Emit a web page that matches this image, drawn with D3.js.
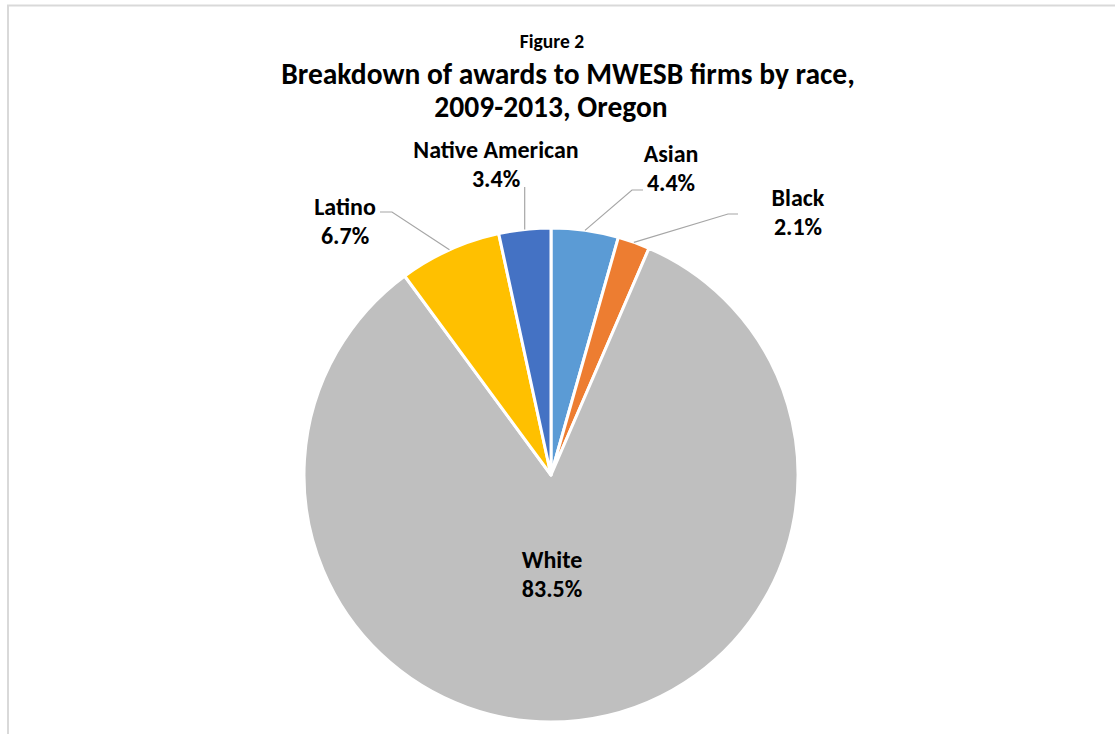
<!DOCTYPE html>
<html>
<head>
<meta charset="utf-8">
<script src="https://cdn.jsdelivr.net/npm/d3@7"></script>
<style>
  html, body { margin: 0; padding: 0; background: #fff; }
  svg { display: block; }
  text { font-family: Calibri, Carlito, "Open Sans", sans-serif; font-weight: bold; fill: #000; }
</style>
</head>
<body>
<svg id="chart" width="1115" height="734"></svg>
<script>
// Share of awards to MWESB firms by race, Oregon 2009-2013 (percent)
const categories = ["Asian", "Black", "White", "Latino", "Native American"];
const shares = [4.4, 2.1, 83.5, 6.7, 3.4];
const valueLabels = ["4.4%", "2.1%", "83.5%", "6.7%", "3.4%"];
const sliceColors = ["#5b9bd5", "#ed7d31", "#bfbfbf", "#ffc000", "#4472c4"];

const titleLines = ["Figure 2", "Breakdown of awards to MWESB firms by race,", "2009-2013, Oregon"];

// Label placement, relative to the pie centre: text centre x, first baseline y,
// and the elbow / end of each leader line (null for labels drawn inside the slice).
const labelLayout = {
  "Asian":           { tx: 120, ty: -313, elbow: [81, -285], end: [92, -285] },
  "Black":           { tx: 247, ty: -269, elbow: [177, -261], end: [187, -261] },
  "White":           { tx: 1,   ty: 93,   elbow: null, end: null },
  "Latino":          { tx: -206, ty: -260, elbow: [-159, -263], end: [-171, -263] },
  "Native American": { tx: -55, ty: -317, elbow: [-26, -288], end: [-26, -288] }
};
const labelLineGap = 28.5;

const W = 1115, H = 734;
const svg = d3.select("#chart");

// chart frame
svg.append("path")
  .attr("d", `M8,${H} L8,5.5 L${W},5.5`)
  .attr("fill", "none")
  .attr("stroke", "#d9d9d9")
  .attr("stroke-width", 2);

// title
const title = svg.append("g").attr("text-anchor", "middle");
title.append("text").attr("x", 552).attr("y", 48).style("font-size", "19.5px").text(titleLines[0]);
title.append("text").attr("x", 568).attr("y", 84).style("font-size", "29.5px").text(titleLines[1]);
title.append("text").attr("x", 551).attr("y", 117).style("font-size", "29.5px").text(titleLines[2]);

// pie
const cx = 551, cy = 475, radius = 247;
const data = categories.map((c, i) => ({ name: c, value: shares[i], label: valueLabels[i], color: sliceColors[i] }));

const pie = d3.pie().sort(null).value(d => d.value).startAngle(0).endAngle(2 * Math.PI);
const arc = d3.arc().innerRadius(0).outerRadius(radius);
const arcs = pie(data);

const g = svg.append("g").attr("transform", `translate(${cx},${cy})`);

g.selectAll("path.slice")
  .data(arcs)
  .join("path")
  .attr("class", "slice")
  .attr("d", arc)
  .attr("fill", d => d.data.color)
  .attr("stroke", "#fff")
  .attr("stroke-width", 3)
  .attr("stroke-linejoin", "round");

// leader lines start on the rim at each slice's mid angle
const rimPoint = d => {
  const a = (d.startAngle + d.endAngle) / 2;
  return [radius * Math.sin(a), -radius * Math.cos(a)];
};

const leaders = arcs.filter(d => labelLayout[d.data.name].elbow);
g.selectAll("polyline.leader")
  .data(leaders)
  .join("polyline")
  .attr("class", "leader")
  .attr("fill", "none")
  .attr("stroke", "#a6a6a6")
  .attr("stroke-width", 1.2)
  .attr("points", d => {
    const L = labelLayout[d.data.name];
    const p = rimPoint(d);
    const mid = d.data.name === "Native American" ? [p[0], L.elbow[1]] : L.elbow;
    const end = d.data.name === "Native American" ? [p[0], L.end[1]] : L.end;
    return [p, mid, end].map(q => q.join(",")).join(" ");
  });

// data labels: category name and share
const labels = g.selectAll("text.lbl")
  .data(arcs)
  .join("text")
  .attr("class", "lbl")
  .attr("text-anchor", "middle")
  .style("font-size", "24px");

labels.append("tspan")
  .attr("x", d => labelLayout[d.data.name].tx)
  .attr("y", d => labelLayout[d.data.name].ty)
  .text(d => d.data.name);

labels.append("tspan")
  .attr("x", d => labelLayout[d.data.name].tx)
  .attr("y", d => labelLayout[d.data.name].ty + labelLineGap)
  .text(d => d.data.label);
</script>
</body>
</html>
